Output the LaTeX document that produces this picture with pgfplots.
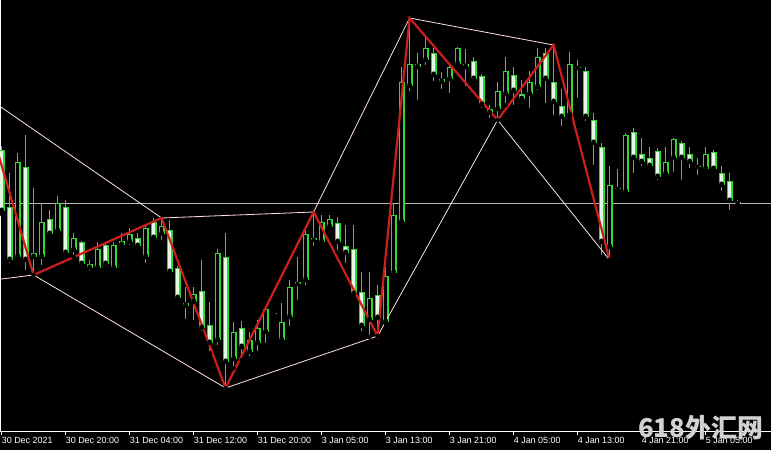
\documentclass[border=0pt]{standalone}
\usepackage{pgfplots}
\pgfplotsset{compat=1.18}
\usepackage{pgfplotstable}
\usepackage{fontspec}
\setmainfont{Liberation Sans}
\newfontfamily\cjk{Noto Sans CJK SC}

\definecolor{candle}{RGB}{50,215,50}
\definecolor{bearbody}{RGB}{225,250,225}
\definecolor{zigzag}{RGB}{205,30,30}
\definecolor{envelope}{RGB}{255,226,218}
\definecolor{bidline}{RGB}{185,185,185}
\definecolor{mark}{RGB}{210,210,210}

% hourly bars: index, open, high, low, close
\pgfplotstableread{
i o h l c
0 281 285 217 220
1 224 258 166 171
2 174 278 171 269
3 264 296 159 171
4 174 243 156 178
5 174 228 164 209
6 212 221 193 197
7 200 235 196 228
8 224 231 175 178
9 181 198 174 193
10 189 190 164 167
11 167 171 158 163
12 163 189 161 182
13 186 189 165 167
14 163 189 161 186
15 190 198 184 186
16 189 203 184 197
17 193 198 181 185
18 174 206 166 203
19 209 213 191 193
20 197 213 189 205
21 201 211 157 159
22 163 165 129 133
23 128 144 110 125
24 129 144 109 137
25 140 171 98 103
26 106 129 78 88
27 91 182 84 178
28 174 198 43 69
29 72 109 63 99
30 103 110 71 84
31 79 99 73 91
32 88 111 78 103
33 99 124 86 122
34 118 118 117 117
35 91 128 89 109
36 114 151 103 144
37 147 174 129 149
38 151 203 144 197
39 191 219 183 193
40 189 216 188 209
41 204 216 202 212
42 208 214 179 189
43 185 206 166 178
44 182 206 134 137
45 139 159 98 105
46 111 159 94 133
47 136 146 95 113
48 109 164 108 155
49 158 228 156 216
50 209 364 208 349
51 345 413 338 367
52 364 378 329 367
53 371 396 364 383
54 378 383 348 356
55 352 359 340 349
56 352 368 336 364
57 367 384 363 383
58 364 382 343 367
59 370 374 350 352
60 355 357 321 326
61 322 326 311 318
62 322 349 311 340
63 337 374 326 360
64 356 364 324 340
65 337 351 328 332
66 337 360 321 349
67 344 383 339 374
68 378 383 326 352
69 349 386 314 329
70 325 342 303 314
71 316 379 314 367
72 363 371 331 364
73 360 364 308 314
74 311 318 264 288
75 284 288 174 189
76 184 265 171 246
77 242 262 238 243
78 239 298 238 296
79 299 303 256 273
80 277 293 263 269
81 273 284 261 265
82 280 283 249 254
83 257 284 253 269
84 273 293 257 292
85 288 290 249 273
86 277 284 261 269
87 264 273 254 265
88 262 284 262 277
89 279 281 262 262
90 258 265 238 246
91 250 258 219 230
92 228 231 225 228
}\candles

% zigzag turning points
\pgfplotstableread{
i v
-1 293
4 156
20 213
28 43
39 219
47 95
51 413
62 311
69 386
76 171
}\zigzagpts

\begin{document}
\begin{tikzpicture}
\useasboundingbox (0,-19bp) rectangle (771bp,431bp);
\fill[black] (0,-19bp) rectangle (771bp,431bp);
\begin{axis}[
  at={(0,0)}, anchor=south west,
  scale only axis, width=771bp, height=431bp,
  xmin=-0.2, xmax=96.175, ymin=0, ymax=431,
  axis x line=bottom, axis y line=left,
  axis line style={-, draw=white, line width=0.8bp},
  ytick=\empty,
  xtick={0,8,...,88},
  xticklabels={30 Dec 2021, 30 Dec 20:00, 31 Dec 04:00, 31 Dec 12:00, 31 Dec 20:00, 3 Jan 05:00, 3 Jan 13:00, 3 Jan 21:00, 4 Jan 05:00, 4 Jan 13:00, 4 Jan 21:00, 5 Jan 05:00},
  tick align=outside, major tick length=4bp,
  tick style={draw=white, line width=0.8bp},
  xticklabel style={anchor=north west, inner sep=0pt, text=white,
    font=\fontsize{9}{10}\selectfont, yshift=-2bp},
  clip=true,
]
% last bid price
\addplot[bidline, line width=0.8bp] coordinates {(-1,228) (97,228)};

% wicks
\addplot[only marks, mark=none, error bars/.cd, y dir=plus, y explicit,
  error mark=none, error bar style={draw=candle, line width=1.1bp}]
  table[x=i, y=l, y error plus expr={\thisrow{h}-\thisrow{l}}] {\candles};
% body outlines
\addplot[only marks, mark=none, error bars/.cd, y dir=plus, y explicit,
  error mark=none, error bar style={draw=candle, line width=6bp}]
  table[x=i, y expr={min(\thisrow{o},\thisrow{c})},
        y error plus expr={max(abs(\thisrow{o}-\thisrow{c}),1.2)}] {\candles};
% bearish bodies: light fill
\addplot[only marks, mark=none, restrict y to domain=-10:1000,
  error bars/.cd, y dir=plus, y explicit,
  error mark=none, error bar style={draw=bearbody, line width=3.4bp}]
  table[x=i, y expr={ifthenelse(\thisrow{o}-\thisrow{c}>2.6, \thisrow{c}+1.3, -1000)},
        y error plus expr={\thisrow{o}-\thisrow{c}-2.6}] {\candles};
% bullish bodies: hollow
\addplot[only marks, mark=none, restrict y to domain=-10:1000,
  error bars/.cd, y dir=plus, y explicit,
  error mark=none, error bar style={draw=black, line width=3.4bp}]
  table[x=i, y expr={ifthenelse(\thisrow{c}-\thisrow{o}>2.6, \thisrow{o}+1.3, -1000)},
        y error plus expr={\thisrow{c}-\thisrow{o}-2.6}] {\candles};

% channel lines through alternate turning points
\addplot[envelope, line width=0.8bp] coordinates {(-1,329) (20,213) (39,219) (51,413) (69,386)};
\addplot[envelope, line width=0.8bp] coordinates {(-1,151) (4,156) (28,43) (47,95) (62,311) (76,171)};

% zigzag
\addplot[zigzag, line width=2.2bp, line join=miter] table[x=i, y=v] {\zigzagpts};
\end{axis}
\node[anchor=base west, inner sep=0pt, text=mark,
  font=\cjk\bfseries\fontsize{26}{26}\selectfont] at (638bp,-6bp) {618外汇网};
\end{tikzpicture}
\end{document}
